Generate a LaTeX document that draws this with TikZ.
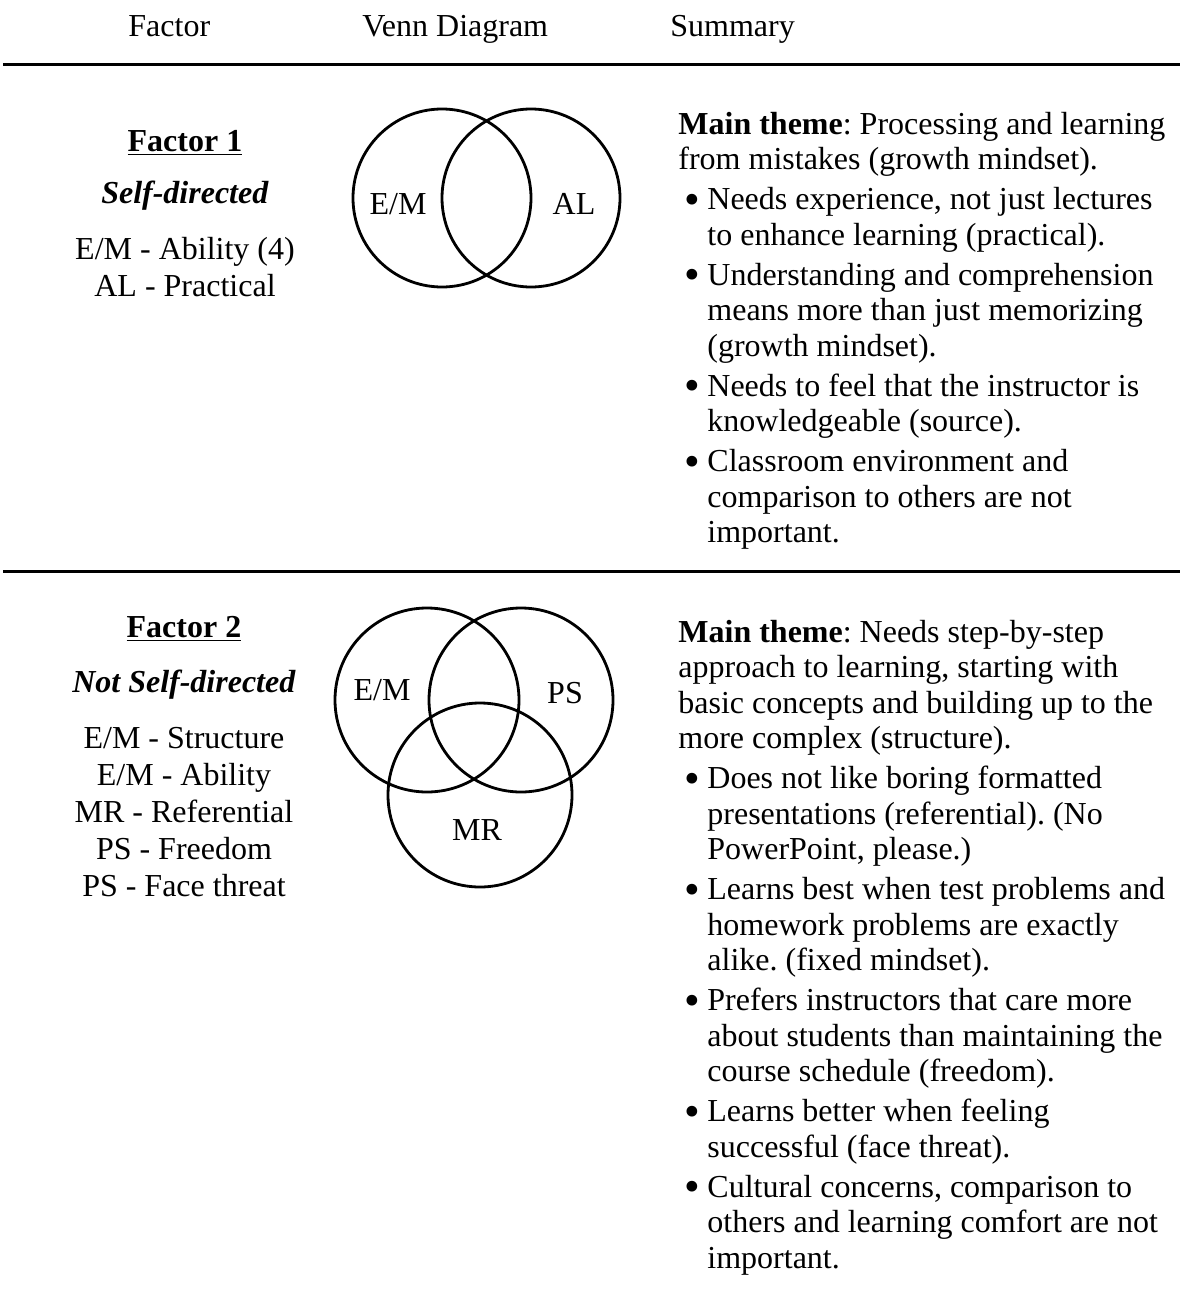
\documentclass[tikz,border=0pt]{standalone}
\usepackage{graphicx}
\usepackage{fontspec}
\setmainfont{Liberation Serif}
\newcommand\bodyfnt{\fontsize{16}{18}\selectfont\frenchspacing}
\newcommand\mybul{\raisebox{-2.4pt}{\scalebox{1.4}{\textbullet}}}
\begin{document}
\begin{tikzpicture}[x=0.5pt,y=-0.5pt,
  txt/.style={inner sep=0pt,anchor=base west,font=\bodyfnt},
  ctr/.style={inner sep=0pt,anchor=base,font=\bodyfnt},
  bul/.style={inner sep=0pt,anchor=base west,font=\bodyfnt},
  rulel/.style={line width=1.5pt},
  vc/.style={circle,draw,line width=1.4pt,inner sep=0pt}]
\useasboundingbox (0,0) rectangle (1180,1296);
% header
\node[txt] (h1) at (128,36) {Factor};
\node[txt] (h2) at (362,36) {Venn Diagram};
\node[txt] (h3) at (670,36) {Summary};
\coordinate (l1a) at (3,64); \coordinate (l1b) at (1180,64);
\draw[rulel] (l1a) -- (l1b);
\coordinate (l2a) at (3,571); \coordinate (l2b) at (1180,571);
\draw[rulel] (l2a) -- (l2b);
% factor 1
\node[ctr] (f1) at (185,151) {\underline{\textbf{Factor 1}}};
\node[ctr] (f1s) at (185,203) {\textbf{\itshape Self-directed}};
\node[ctr] (f1a) at (185,259) {E/M - Ability (4)};
\node[ctr] (f1b) at (185,296) {AL - Practical};
\node[vc,minimum size=89pt] (v1a) at (442,198) {};
\node[vc,minimum size=89pt] (v1b) at (531,198) {};
\node[ctr] (v1al) at (398,214) {E/M};
\node[ctr] (v1bl) at (574,214) {AL};
% summary 1
\node[txt] (s1a) at (678,134) {\textbf{Main theme}: Processing and learning};
\node[txt] (s1b) at (678,169.5) {from mistakes (growth mindset).};
\node[bul] (b1a) at (684,209.5) {\mybul};
\node[txt] (s1c) at (707,209.5) {Needs experience, not just lectures};
\node[txt] (s1d) at (707,245) {to enhance learning (practical).};
\node[bul] (b1b) at (684,285) {\mybul};
\node[txt] (s1e) at (707,285) {Understanding and comprehension};
\node[txt] (s1f) at (707,320.5) {means more than just memorizing};
\node[txt] (s1g) at (707,356) {(growth mindset).};
\node[bul] (b1c) at (684,396) {\mybul};
\node[txt] (s1h) at (707,396) {Needs to feel that the instructor is};
\node[txt] (s1i) at (707,431.5) {knowledgeable (source).};
\node[bul] (b1d) at (684,471.5) {\mybul};
\node[txt] (s1j) at (707,471.5) {Classroom environment and};
\node[txt] (s1k) at (707,507) {comparison to others are not};
\node[txt] (s1l) at (707,542.5) {important.};
% factor 2
\node[ctr] (f2) at (184,637) {\underline{\textbf{Factor 2}}};
\node[ctr] (f2s) at (184,692) {\textbf{\itshape Not Self-directed}};
\node[ctr] (f2a) at (184,748) {E/M - Structure};
\node[ctr] (f2b) at (184,785) {E/M - Ability};
\node[ctr] (f2c) at (184,822) {MR - Referential};
\node[ctr] (f2d) at (184,859) {PS - Freedom};
\node[ctr] (f2e) at (184,896) {PS - Face threat};
\node[vc,minimum size=92pt] (v2a) at (427,700) {};
\node[vc,minimum size=92pt] (v2b) at (521,700) {};
\node[vc,minimum size=92pt] (v2c) at (480,795) {};
\node[ctr] (v2al) at (382,700) {E/M};
\node[ctr] (v2bl) at (565,703) {PS};
\node[ctr] (v2cl) at (477,840) {MR};
% summary 2
\node[txt] (s2a) at (678,642) {\textbf{Main theme}: Needs step-by-step};
\node[txt] (s2b) at (678,677.5) {approach to learning, starting with};
\node[txt] (s2c) at (678,713) {basic concepts and building up to the};
\node[txt] (s2d) at (678,748.5) {more complex (structure).};
\node[bul] (b2a) at (684,788.5) {\mybul};
\node[txt] (s2e) at (707,788.5) {Does not like boring formatted};
\node[txt] (s2f) at (707,824) {presentations (referential). (No};
\node[txt] (s2g) at (707,859.5) {PowerPoint, please.)};
\node[bul] (b2b) at (684,899.5) {\mybul};
\node[txt] (s2h) at (707,899.5) {Learns best when test problems and};
\node[txt] (s2i) at (707,935) {homework problems are exactly};
\node[txt] (s2j) at (707,970.5) {alike. (fixed mindset).};
\node[bul] (b2c) at (684,1010.5) {\mybul};
\node[txt] (s2k) at (707,1010.5) {Prefers instructors that care more};
\node[txt] (s2l) at (707,1046) {about students than maintaining the};
\node[txt] (s2m) at (707,1081.5) {course schedule (freedom).};
\node[bul] (b2d) at (684,1121.5) {\mybul};
\node[txt] (s2n) at (707,1121.5) {Learns better when feeling};
\node[txt] (s2o) at (707,1157) {successful (face threat).};
\node[bul] (b2e) at (684,1197) {\mybul};
\node[txt] (s2p) at (707,1197) {Cultural concerns, comparison to};
\node[txt] (s2q) at (707,1232.5) {others and learning comfort are not};
\node[txt] (s2r) at (707,1268) {important.};
\end{tikzpicture}
\end{document}
